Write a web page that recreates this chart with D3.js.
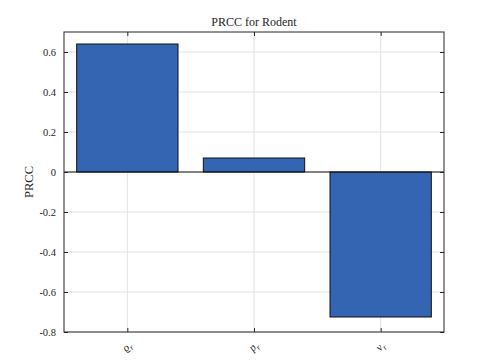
<!DOCTYPE html>
<meta charset="utf-8">
<head>
  <title>PRCC for Rodent</title>
  <script src="https://d3js.org/d3.v7.min.js"></script>
  <style>
    body { margin: 0; background: #fff; }
    text { font-family: "Liberation Serif", "DejaVu Serif", serif; fill: #262626; }
    .grid line { stroke: #e3e3e3; stroke-width: 1; }
  </style>
</head>
<body>
  <svg width="483" height="364"></svg>
  <script>
    // data
    const params = ["ϱ", "p", "ν"];
    const prcc = [0.64, 0.07, -0.725];
    const yTicks = [-0.8, -0.6, -0.4, -0.2, 0, 0.2, 0.4, 0.6];

    const margin = {left: 64, right: 39, top: 32, bottom: 32};
    const width = 483, height = 364;
    const svg = d3.select("svg");

    const x = d3.scaleLinear().domain([0.5, 3.5]).range([margin.left, width - margin.right]);
    const y = d3.scaleLinear().domain([-0.8, 0.7]).range([height - margin.bottom, margin.top]);

    const ticksX = params.map((d, i) => i + 1);

    // grid
    const grid = svg.append("g").attr("class", "grid");
    grid.selectAll(".gx").data(ticksX).enter().append("line")
      .attr("x1", d => x(d)).attr("x2", d => x(d))
      .attr("y1", y(-0.8)).attr("y2", y(0.7));
    grid.selectAll(".gy").data(yTicks).enter().append("line")
      .attr("y1", d => y(d)).attr("y2", d => y(d))
      .attr("x1", x(0.5)).attr("x2", x(3.5));

    // bars
    const bw = 0.8;
    svg.append("g").selectAll("rect").data(prcc).enter().append("rect")
      .attr("x", (d, i) => x(i + 1 - bw / 2))
      .attr("width", x(bw) - x(0))
      .attr("y", d => y(Math.max(0, d)))
      .attr("height", d => Math.abs(y(d) - y(0)))
      .attr("fill", "#3465b3")
      .attr("stroke", "#111")
      .attr("stroke-width", 1);

    // baseline
    svg.append("line")
      .attr("x1", x(0.5)).attr("x2", x(3.5))
      .attr("y1", y(0)).attr("y2", y(0))
      .attr("stroke", "#111").attr("stroke-width", 1);

    // box and ticks
    const boxColor = "#262626";
    svg.append("rect")
      .attr("x", x(0.5)).attr("y", y(0.7))
      .attr("width", x(3.5) - x(0.5)).attr("height", y(-0.8) - y(0.7))
      .attr("fill", "none").attr("stroke", boxColor).attr("stroke-width", 1);

    const axL = svg.append("g").attr("transform", `translate(${x(0.5)},0)`)
      .call(d3.axisLeft(y).tickValues(yTicks).tickSize(-4).tickPadding(8)
        .tickFormat(d => d === 0 ? "0" : d.toFixed(1)));
    const axR = svg.append("g").attr("transform", `translate(${x(3.5)},0)`)
      .call(d3.axisRight(y).tickValues(yTicks).tickSize(-4).tickFormat(""));
    const axB = svg.append("g").attr("transform", `translate(0,${y(-0.8)})`)
      .call(d3.axisBottom(x).tickValues(ticksX).tickSize(-4).tickFormat(""));
    const axT = svg.append("g").attr("transform", `translate(0,${y(0.7)})`)
      .call(d3.axisTop(x).tickValues(ticksX).tickSize(-4).tickFormat(""));
    [axL, axR, axB, axT].forEach(a => {
      a.select(".domain").remove();
      a.selectAll("line").attr("stroke", boxColor);
    });
    axL.attr("font-family", "Liberation Serif").attr("font-size", 10.5);
    axL.selectAll("text").attr("fill", "#262626");

    // x labels, rotated
    const xl = svg.append("g").selectAll("text").data(params).enter().append("text")
      .attr("transform", (d, i) => `translate(${x(i + 1) + 5},${y(-0.8) + 14}) rotate(-45)`)
      .attr("text-anchor", "end")
      .attr("font-size", 11)
      .attr("font-style", "italic");
    xl.append("tspan").text(d => d);
    xl.append("tspan").attr("font-size", 8).attr("dy", 3).text("r");

    // title
    svg.append("text")
      .attr("x", (x(0.5) + x(3.5)) / 2).attr("y", 26)
      .attr("text-anchor", "middle").attr("font-size", 12)
      .text("PRCC for Rodent");

    // y label
    svg.append("text")
      .attr("transform", `translate(33,${y(-0.05)}) rotate(-90)`)
      .attr("text-anchor", "middle").attr("font-size", 12.5)
      .text("PRCC");
  </script>
</body>
